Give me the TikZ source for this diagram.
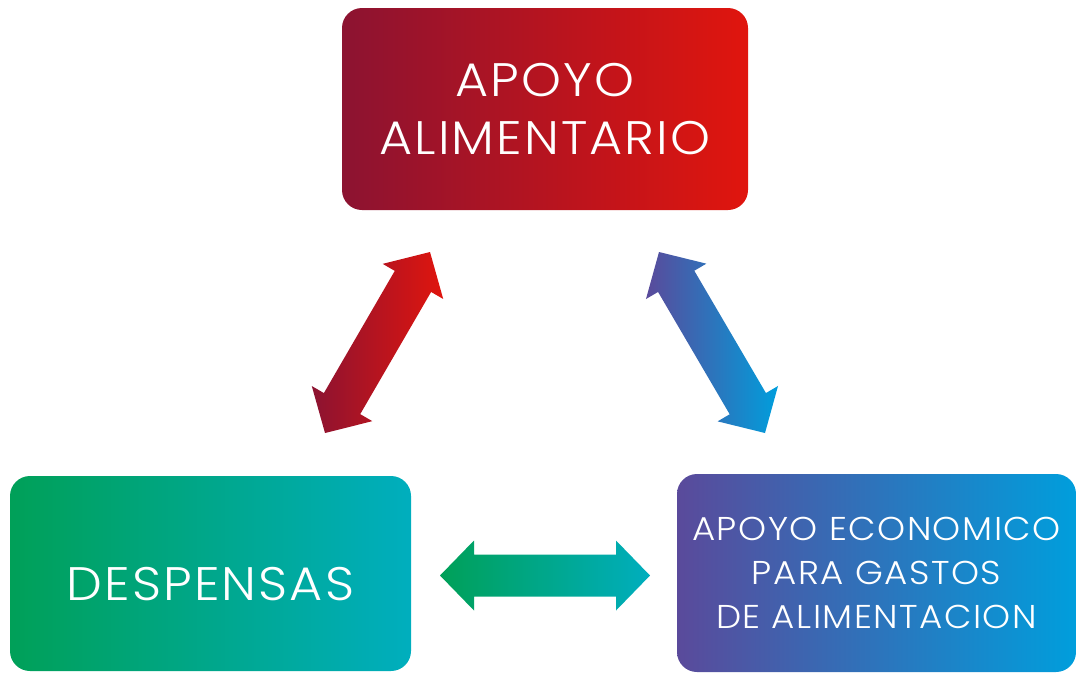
\documentclass[tikz,border=0pt]{standalone}
\usepackage{fontspec}
\IfFontExistsTF{Poppins Light}{\setmainfont{Poppins Light}[LetterSpace=4.5,FakeStretch=1.08]}{\setmainfont{Poppins}[LetterSpace=4.5,FakeStretch=1.08]}
\usetikzlibrary{calc}
\definecolor{redL}{RGB}{140,19,49}
\definecolor{redR}{RGB}{224,21,14}
\definecolor{grnL}{RGB}{0,160,88}
\definecolor{grnR}{RGB}{0,174,190}
\definecolor{bluL}{RGB}{90,74,155}
\definecolor{bluR}{RGB}{0,158,220}
\tikzset{
  box/.style={rounded corners=20pt, inner sep=0pt, text=white, align=center},
  redshade/.style={left color=redL, right color=redR},
  grnshade/.style={left color=grnL, right color=grnR},
  blushade/.style={left color=bluL, right color=bluR},
}
\newcommand{\blockarrow}[3]{%
  \shade[#3] (#1)
   -- ($(#1)!34pt!(#2)!35pt!90:(#2)$)
   -- ($(#1)!34pt!(#2)!21pt!90:(#2)$)
   -- ($(#2)!34pt!(#1)!21pt!-90:(#1)$)
   -- ($(#2)!34pt!(#1)!35pt!-90:(#1)$)
   -- (#2)
   -- ($(#2)!34pt!(#1)!35pt!90:(#1)$)
   -- ($(#2)!34pt!(#1)!21pt!90:(#1)$)
   -- ($(#1)!34pt!(#2)!21pt!-90:(#2)$)
   -- ($(#1)!34pt!(#2)!35pt!-90:(#2)$)
   -- cycle;}
\begin{document}
\begin{tikzpicture}[x=1pt,y=-1pt]
\useasboundingbox (0,0) rectangle (1077,673);
\node[box, redshade, minimum width=406pt, minimum height=202pt,
      font=\fontsize{47}{58}\selectfont] (ali) at (545,109) {APOYO\\ALIMENTARIO};
\node[box, grnshade, minimum width=401pt, minimum height=195pt,
      font=\fontsize{47}{58}\selectfont, text height=53pt, text depth=0pt] (desp) at (210.5,573.5) {DESPENSAS};
\node[box, blushade, minimum width=399pt, minimum height=198pt,
      font=\fontsize{33}{44}\selectfont] (eco) at (876.5,573) {APOYO ECONOMICO\\PARA GASTOS\\DE ALIMENTACION};
\coordinate (la) at (325,433);
\coordinate (lb) at (430,252);
\coordinate (ra) at (659,252);
\coordinate (rb) at (765,433);
\coordinate (ha) at (440,575.5);
\coordinate (hb) at (650,575.5);
\blockarrow{la}{lb}{redshade}
\blockarrow{ra}{rb}{blushade}
\blockarrow{ha}{hb}{grnshade}
\end{tikzpicture}
\end{document}
